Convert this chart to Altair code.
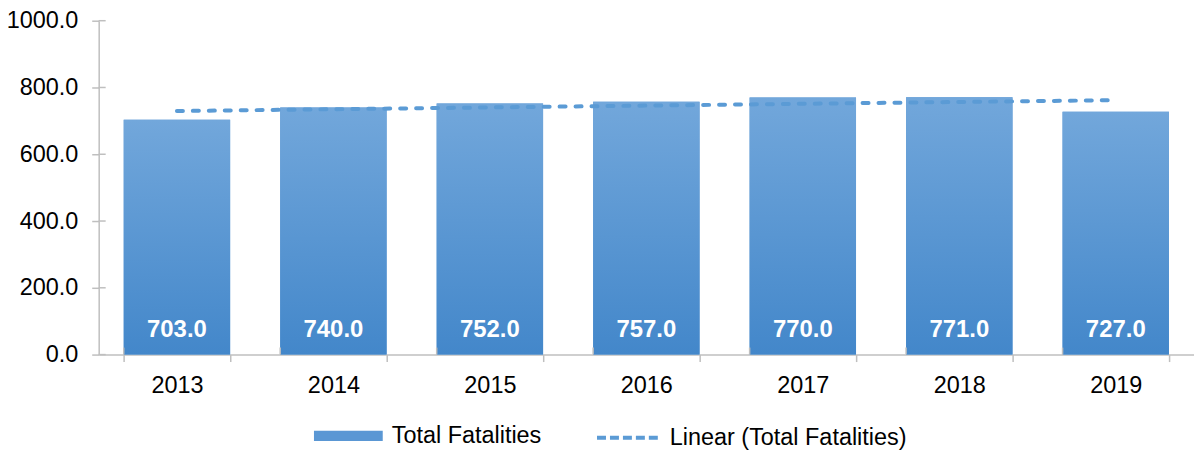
import altair as alt
import pandas as pd

years = [2013, 2014, 2015, 2016, 2017, 2018, 2019]
fatalities = [703.0, 740.0, 752.0, 757.0, 770.0, 771.0, 727.0]
y_ticks = [0, 200, 400, 600, 800, 1000]
bar_name = "Total Fatalities"
trend_name = "Linear (Total Fatalities)"

df = pd.DataFrame({"Year": years, "Fatalities": fatalities})
tick_df = pd.DataFrame({"tick": y_ticks})

FONT = "Liberation Sans"
AXIS_GRAY = "#bfbfbf"
BLUE = "#5b9bd5"
FS = 23.5

x_scale = alt.Scale(paddingInner=0.32, paddingOuter=0.16)
y_scale = alt.Scale(domain=[0, 1000], nice=False)

x_main = alt.X("Year:O", scale=x_scale, title=None,
               axis=alt.Axis(labelAngle=0, tickBand="extent", tickSize=7, labelPadding=12))
y_main = alt.Y("Fatalities:Q", scale=y_scale, title=None,
               axis=alt.Axis(values=y_ticks, format=".1f", tickSize=7, labelPadding=14, grid=False))

base = alt.Chart(df)

# solid bars carry the legend
bars_legend = base.mark_bar().encode(
    x=x_main,
    y=y_main,
    color=alt.Color(
        "series:N",
        scale=alt.Scale(domain=[bar_name], range=["#5a97d4"]),
        legend=alt.Legend(
            orient="none", legendX=216, legendY=382, title=None,
            symbolType="M-1,-0.15H1V0.15H-1Z", symbolSize=4761,
            labelFontSize=FS, labelFont=FONT, labelOffset=9, labelColor="#000000",
            symbolStrokeWidth=0, labelLimit=400,
        ),
    ),
).transform_calculate(series=f"'{bar_name}'")

grad = alt.Gradient(
    gradient="linear",
    stops=[alt.GradientStop(color="#72a7db", offset=0),
           alt.GradientStop(color="#4387ca", offset=1)],
    x1=0, x2=0, y1=0, y2=1,
)
bars = base.mark_bar(fill=grad).encode(x=alt.X("Year:O", scale=x_scale, title=None),
                                       y=alt.Y("Fatalities:Q", scale=y_scale, title=None))

labels = base.mark_text(
    font=FONT, fontSize=24, fontWeight="bold", color="white",
    baseline="alphabetic", dy=-18,
).encode(
    x=alt.X("Year:O", scale=x_scale, title=None),
    y=alt.datum(0),
    text=alt.Text("Fatalities:Q", format=".1f"),
)

trend_base = base.transform_regression(
    "Year", "Fatalities", method="linear"
).transform_calculate(series=f"'{trend_name}'")

# visible trend line (round-capped dashes)
trend = trend_base.mark_line(
    color=BLUE, strokeWidth=4, strokeCap="round", strokeDash=[6, 10]
).encode(
    x=alt.X("Year:O", scale=x_scale, title=None),
    y=alt.Y("Fatalities:Q", scale=y_scale, title=None),
)

# invisible copy that carries the legend entry
trend_legend = trend_base.mark_line(color=BLUE, strokeWidth=4, opacity=0).encode(
    x=alt.X("Year:O", scale=x_scale, title=None),
    y=alt.Y("Fatalities:Q", scale=y_scale, title=None),
    strokeDash=alt.StrokeDash(
        "series:N",
        scale=alt.Scale(domain=[trend_name], range=[[9, 4]]),
        legend=alt.Legend(
            orient="none", legendX=498, legendY=384, title=None,
            symbolType="stroke", symbolSize=4225, symbolStrokeWidth=4,
            symbolStrokeColor=BLUE, symbolOpacity=1, labelFontSize=FS, labelFont=FONT,
            labelOffset=6, labelColor="#000000", labelLimit=400,
        ),
    ),
)

# inward halves of the crossing tick marks
y_inner_ticks = alt.Chart(tick_df).mark_rule(color=AXIS_GRAY, strokeWidth=1.5).encode(
    y=alt.Y("tick:Q", scale=y_scale, title=None),
    x=alt.value(0), x2=alt.value(7),
)
x_inner_ticks = base.mark_rule(color=AXIS_GRAY, strokeWidth=1.5).encode(
    x=alt.X("Year:O", scale=x_scale, bandPosition=0, title=None),
    y=alt.value(328), y2=alt.value(335),
)

chart = alt.layer(
    bars_legend, bars, labels, trend_legend, trend, y_inner_ticks, x_inner_ticks
).resolve_scale(color="independent", strokeDash="independent").properties(
    width=1099, height=335,
    autosize=alt.AutoSizeParams(type="none"),
    padding={"left": 91, "top": 12, "right": 0, "bottom": 97},
    background="white",
).configure_view(stroke=None).configure_axis(
    domainColor=AXIS_GRAY, tickColor=AXIS_GRAY, domainWidth=1.5, tickWidth=1.5,
    labelFont=FONT, labelFontSize=FS, labelColor="#000000", grid=False,
)

chart.save("out.html", embed_options={"renderer": "svg", "actions": False})
